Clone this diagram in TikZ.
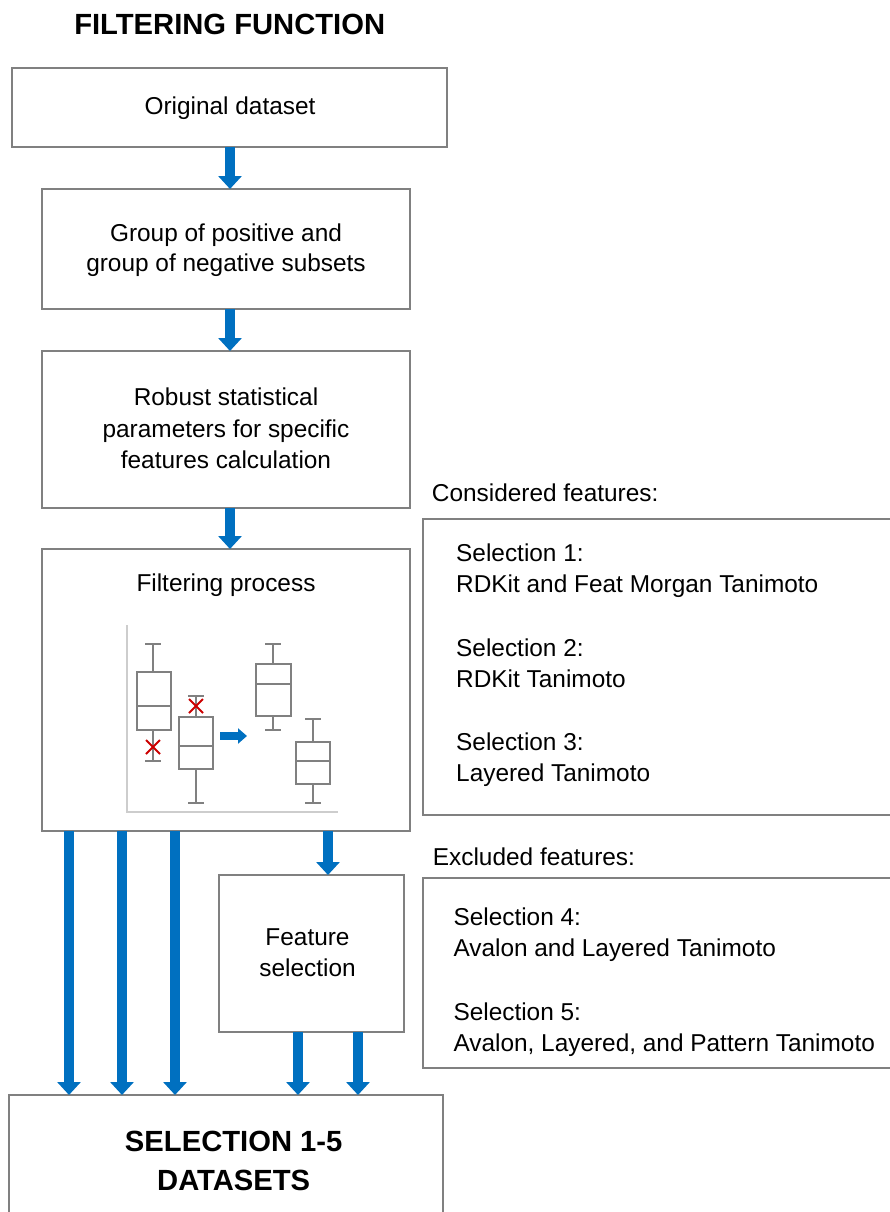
\documentclass[tikz,border=0pt]{standalone}
\usepackage{fontspec}
\setmainfont{Liberation Sans}
\usetikzlibrary{arrows.meta,calc}
\definecolor{boxgray}{RGB}{128,128,128}
\definecolor{flowblue}{RGB}{0,112,192}
\definecolor{outred}{RGB}{204,0,0}
\definecolor{axisgray}{RGB}{205,205,205}
\begin{document}
\begin{tikzpicture}[x=1pt,y=-1pt,
  box/.style={draw=boxgray,line width=2.2pt,inner sep=0pt,outer sep=0pt},
  txt/.style={inner sep=0pt,font=\fontsize{24.4}{31}\selectfont},
  head/.style={inner sep=0pt,font=\fontsize{29.2}{36}\selectfont\bfseries},
  flow/.style={draw=flowblue,line width=10pt,-{Triangle[width=23pt,length=13pt]}},
  plotline/.style={draw=boxgray,line width=1.8pt},
  outlier/.style={draw=outred,line width=1.8pt},
]
\useasboundingbox (0,0) rectangle (890,1212);
\clip (0,0) rectangle (890,1212);

% title
\node[head,anchor=base] (title) at (229.7,35) {FILTERING FUNCTION};

% main boxes
\node[box,minimum width=435pt,minimum height=79pt] (orig) at (229.5,107.5) {};
\node[box,minimum width=368pt,minimum height=120pt] (group) at (226,249) {};
\node[box,minimum width=368pt,minimum height=157pt] (robust) at (226,429.5) {};
\node[box,minimum width=368pt,minimum height=282pt] (filt) at (226,690) {};
\node[box,minimum width=477pt,minimum height=296pt] (consid) at (661.5,667) {};
\node[box,minimum width=477pt,minimum height=190pt] (excl) at (661.5,973) {};
\node[box,minimum width=185pt,minimum height=157pt] (featsel) at (311.5,953.5) {};
\node[box,minimum width=434pt,minimum height=135pt] (final) at (226,1162.5) {};

% box texts
\node[txt,anchor=base] (origT) at (230,115) {Original dataset};
\node[txt,anchor=base] (groupA) at (226,241) {Group of positive and};
\node[txt,anchor=base] (groupB) at (226,271.7) {group of negative subsets};
\node[txt,anchor=base] (robA) at (226,405.7) {Robust statistical};
\node[txt,anchor=base] (robB) at (226,437) {parameters for specific};
\node[txt,anchor=base] (robC) at (226,468) {features calculation};
\node[txt,anchor=base] (filtT) at (226,591.7) {Filtering process};
\node[txt,anchor=base] (fsA) at (307.5,945) {Feature};
\node[txt,anchor=base] (fsB) at (307.5,976.7) {selection};
\node[head,anchor=base] (finA) at (233.7,1151.7) {SELECTION 1-5};
\node[head,anchor=base] (finB) at (233.7,1190) {DATASETS};

% feature lists
\node[txt,anchor=base west] (considL) at (431.7,501.7) {Considered features:};
\node[txt,anchor=base west] (s1a) at (456,561.7) {Selection 1:};
\node[txt,anchor=base west] (s1b) at (456,592.7) {RDKit and Feat Morgan Tanimoto};
\node[txt,anchor=base west] (s2a) at (456,656) {Selection 2:};
\node[txt,anchor=base west] (s2b) at (456,687) {RDKit Tanimoto};
\node[txt,anchor=base west] (s3a) at (456,750.7) {Selection 3:};
\node[txt,anchor=base west] (s3b) at (456,781.7) {Layered Tanimoto};
\node[txt,anchor=base west] (exclL) at (432.7,865) {Excluded features:};
\node[txt,anchor=base west] (s4a) at (453.3,925) {Selection 4:};
\node[txt,anchor=base west] (s4b) at (453.3,956.7) {Avalon and Layered Tanimoto};
\node[txt,anchor=base west] (s5a) at (453.3,1020) {Selection 5:};
\node[txt,anchor=base west] (s5b) at (453.3,1051.7) {Avalon, Layered, and Pattern Tanimoto};

% arrow columns
\coordinate (ca) at (230,0);
\coordinate (c1) at (69,0);
\coordinate (c2) at (122,0);
\coordinate (c3) at (175,0);
\coordinate (c4) at (328,0);
\coordinate (c5) at (298,0);
\coordinate (c6) at (358,0);

% flow arrows
\draw[flow] (ca |- orig.south) -- (ca |- group.north);
\draw[flow] (ca |- group.south) -- (ca |- robust.north);
\draw[flow] (ca |- robust.south) -- (ca |- filt.north);
\draw[flow] (c1 |- filt.south) -- (c1 |- final.north);
\draw[flow] (c2 |- filt.south) -- (c2 |- final.north);
\draw[flow] (c3 |- filt.south) -- (c3 |- final.north);
\draw[flow] (c4 |- filt.south) -- (c4 |- featsel.north);
\draw[flow] (c5 |- featsel.south) -- (c5 |- final.north);
\draw[flow] (c6 |- featsel.south) -- (c6 |- final.north);

% box plot inside the filtering step
\draw[draw=axisgray,line width=1.5pt] (127,625) -- (127,812) -- (338,812);
% before filtering
\draw[plotline] (137,672) rectangle (171,730);
\draw[plotline] (137,706) -- (171,706);
\draw[plotline] (153,672) -- (153,644) (145,644) -- (161,644);
\draw[plotline] (153,730) -- (153,761) (145,761) -- (161,761);
\draw[plotline] (179,717) rectangle (213,769);
\draw[plotline] (179,746) -- (213,746);
\draw[plotline] (196,717) -- (196,696) (188,696) -- (204,696);
\draw[plotline] (196,769) -- (196,803) (188,803) -- (204,803);
\draw[outlier] (146,740) -- (160,754) (146,754) -- (160,740);
\draw[outlier] (189,699) -- (203,713) (189,713) -- (203,699);
% filtering direction
\draw[draw=flowblue,line width=7.5pt,-{Triangle[width=15pt,length=9pt]}] (220,736) -- (247,736);
% after filtering
\draw[plotline] (256,664) rectangle (291,716);
\draw[plotline] (256,684) -- (291,684);
\draw[plotline] (273,664) -- (273,644) (265,644) -- (281,644);
\draw[plotline] (273,716) -- (273,730) (265,730) -- (281,730);
\draw[plotline] (296,742) rectangle (330,784);
\draw[plotline] (296,761) -- (330,761);
\draw[plotline] (313,742) -- (313,719) (305,719) -- (321,719);
\draw[plotline] (313,784) -- (313,803) (305,803) -- (321,803);
\end{tikzpicture}
\end{document}
